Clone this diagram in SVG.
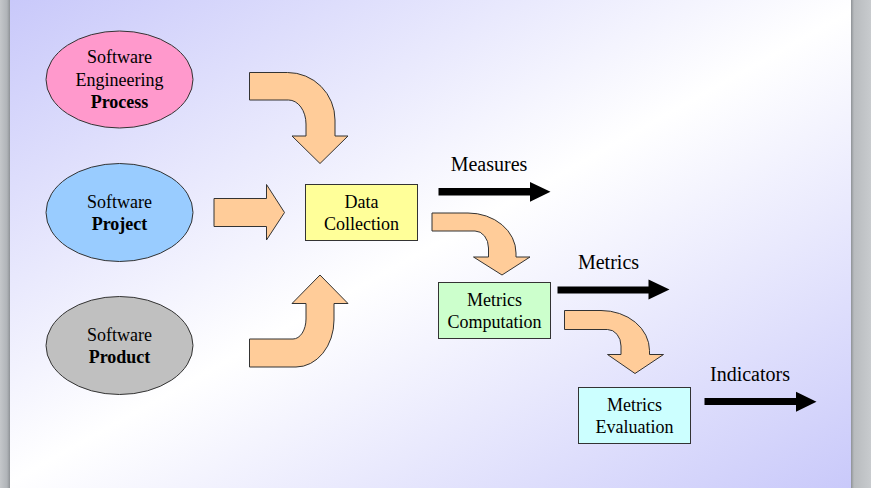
<svg xmlns="http://www.w3.org/2000/svg" width="871" height="488" viewBox="0 0 871 488">
<defs>
<linearGradient id="bg" x1="0" y1="0" x2="1" y2="1">
<stop offset="0" stop-color="#c8c8fa"/>
<stop offset="0.5" stop-color="#ffffff"/>
<stop offset="1" stop-color="#c8c8fa"/>
</linearGradient>
<linearGradient id="lb" x1="0" y1="0" x2="1" y2="0">
<stop offset="0" stop-color="#c4c7ca"/>
<stop offset="0.7" stop-color="#b0b4b8"/>
<stop offset="1" stop-color="#8e9296"/>
</linearGradient>
<linearGradient id="rb" x1="0" y1="0" x2="1" y2="0">
<stop offset="0" stop-color="#8e9296"/>
<stop offset="0.15" stop-color="#b8bbbe"/>
<stop offset="1" stop-color="#c8cbce"/>
</linearGradient>
<style>
text{font-family:'Liberation Serif','DejaVu Serif',serif;fill:#000;text-anchor:middle}
.n{font-size:18px}
.b{font-weight:bold}
.l{font-size:20px}
.node{stroke:#333;stroke-width:1}
.fat{fill:#ffcc99;stroke:#333;stroke-width:1;stroke-linejoin:miter}
.blk{fill:#000;stroke:none}
</style>
</defs>
<rect x="0" y="0" width="871" height="488" fill="url(#bg)"/>
<rect x="0" y="0" width="10" height="488" fill="url(#lb)"/>
<rect x="851" y="0" width="20" height="488" fill="url(#rb)"/>

<g id="process">
<ellipse class="node" cx="119.5" cy="79.5" rx="73.5" ry="48.5" fill="#ff99cc"/>
<text class="n" x="119.5" y="63" font-family="Liberation Serif">Software</text>
<text class="n" x="119.5" y="85.5">Engineering</text>
<text class="n b" x="119.5" y="107.5">Process</text>
</g>
<g id="project">
<ellipse class="node" cx="119.5" cy="212.5" rx="73.5" ry="49" fill="#99ccff"/>
<text class="n" x="119.5" y="207.5">Software</text>
<text class="n b" x="119.5" y="229.5">Project</text>
</g>
<g id="product">
<ellipse class="node" cx="119.5" cy="345.5" rx="73.5" ry="49" fill="#c0c0c0"/>
<text class="n" x="119.5" y="340.5">Software</text>
<text class="n b" x="119.5" y="362.5">Product</text>
</g>
<g id="data-collection">
<rect class="node" x="305.5" y="184.5" width="112" height="56" fill="#ffff99"/>
<text class="n" x="361.5" y="207.5">Data</text>
<text class="n" x="361.5" y="229.5">Collection</text>
</g>
<g id="metrics-computation">
<rect class="node" x="438.5" y="282.5" width="112" height="56" fill="#ccffcc"/>
<text class="n" x="494.5" y="305.5">Metrics</text>
<text class="n" x="494.5" y="327.5">Computation</text>
</g>
<g id="metrics-evaluation">
<rect class="node" x="578.5" y="387.5" width="112" height="56" fill="#ccffff"/>
<text class="n" x="634.5" y="410.5">Metrics</text>
<text class="n" x="634.5" y="432.5">Evaluation</text>
</g>

<g id="connectors">
<path class="fat" d="M249.5,72.5 L287.5,72.5 A47.5,47.5 0 0 1 335,120 L335,136 L348,136 L320,163.5 L292,136 L306,136 L306,124 A17.5,24 0 0 0 288.5,100 L249.5,100 Z"/>
<path class="fat" d="M214,198.5 L266.5,198.5 L266.5,184.5 L284.5,212.5 L266.5,240 L266.5,226.5 L214,226.5 Z"/>
<path class="fat" d="M249.5,339 L293,339 A13,20 0 0 0 306,319 L306,303.5 L292,303.5 L320,275 L348,303.5 L334,303.5 L334,320 A38,47 0 0 1 296,367 L249.5,367 Z"/>
<path class="fat" d="M432,213 L468,213 A48,40 0 0 1 516,253 L516,257 L530,257 L502,275 L473.5,257 L488.5,257 L488.5,248 A13.5,17 0 0 0 475,231 L432,231 Z"/>
<path class="fat" d="M564.5,310.5 L601,310.5 A48.5,40 0 0 1 649.5,350.5 L649.5,354.5 L663.5,354.5 L635,373.5 L607.5,354.5 L621,354.5 L621,346 A13.5,16.5 0 0 0 607.5,329.5 L564.5,329.5 Z"/>
<path class="blk" d="M438.5,188 L530,188 L530,182 L550.5,191.8 L530,201.8 L530,195.5 L438.5,195.5 Z"/>
<path class="blk" d="M557.5,286.5 L648.5,286.5 L648.5,279.5 L669.5,289.5 L648.5,299.5 L648.5,293.5 L557.5,293.5 Z"/>
<path class="blk" d="M704.5,398 L796,398 L796,391.8 L816.5,401.8 L796,411.8 L796,405 L704.5,405 Z"/>
<text class="l" x="489" y="170.5">Measures</text>
<text class="l" x="608.5" y="268.5">Metrics</text>
<text class="l" x="750" y="380.5">Indicators</text>
</g>
</svg>
